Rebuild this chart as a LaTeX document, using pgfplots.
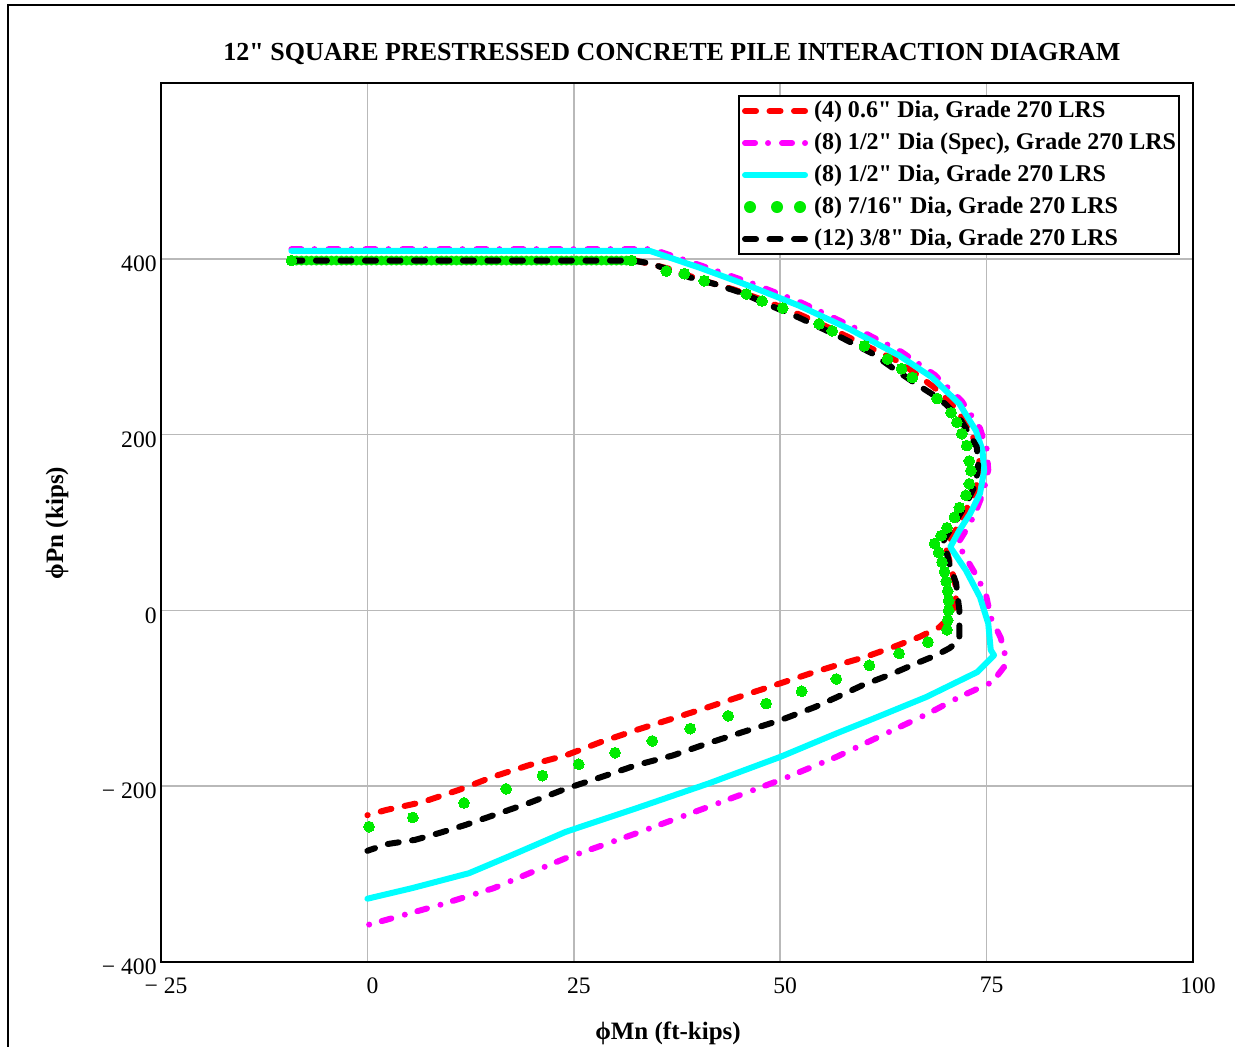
\documentclass[border=0pt]{standalone}
\usepackage{fontspec}
\setmainfont{Liberation Serif}[Ligatures=TeXOff]
\usepackage{pgfplots}
\pgfplotsset{compat=1.18}
\definecolor{mred}{RGB}{255,0,0}
\definecolor{mmag}{RGB}{255,0,255}
\definecolor{mcyan}{RGB}{0,255,255}
\definecolor{mgreen}{RGB}{0,235,0}
\definecolor{mgrid}{RGB}{185,185,185}

\begin{document}
\begin{tikzpicture}
\useasboundingbox (0bp,0bp) rectangle (617.5bp,523.5bp);
\draw[line width=1bp] (4.1bp,-5bp) -- (4.1bp,521bp) -- (630bp,521bp);
\node[font=\bfseries\fontsize{13bp}{15bp}\selectfont] at (336bp,496.5bp) {12" SQUARE PRESTRESSED CONCRETE PILE INTERACTION DIAGRAM};
\node[font=\bfseries\fontsize{12.5bp}{15bp}\selectfont] at (334bp,7bp) {ϕMn (ft-kips)};
\node[font=\bfseries\fontsize{12.5bp}{15bp}\selectfont,rotate=90] at (28.5bp,262bp) {ϕPn (kips)};
\begin{axis}[
  at={(80.5bp,42.5bp)}, anchor=south west,
  scale only axis, width=516bp, height=439.5bp,
  xmin=-25, xmax=100, ymin=-400, ymax=600,
  xtick={-25,0,25,50,75,100}, xticklabels={− 25,0,25,50,75,100},
  ytick={-400,-200,0,200,400}, yticklabels={− 400,− 200,0,200,400},
  major tick length=0pt,
  grid=major, grid style={color=mgrid, line width=0.8bp},
  axis line style={line width=1.2bp},
  tick label style={font=\fontsize{11.8bp}{14bp}\selectfont},
  xticklabel style={inner sep=0pt, yshift=-7.5bp, xshift=2.5bp},
  yticklabel style={inner sep=0pt, xshift=-2bp, yshift=-2.5bp},
  no markers,
  legend cell align=left,
  legend style={at={(0.9874,0.9863)}, anchor=north east, draw=black, line width=1bp,
    font=\bfseries\fontsize{12bp}{15bp}\selectfont, inner sep=1.5bp,
    nodes={inner sep=0pt, text height=9bp, text depth=3bp}, row sep=4bp, column sep=3bp},
  legend image code/.code={\draw[#1] (1.5bp,0bp) -- (31.5bp,0bp); \path[draw=none] (0bp,0bp) -- (33bp,0bp);},
]
\addplot[color=mred, line width=3bp, line cap=round, dash pattern=on 5.5bp off 6.75bp] table {
-9.2 398
32.5 398
36.4 389
40.4 376
44.4 365
48.5 351
52.5 336
56.5 319
60.6 300
64.6 282
68.6 254
70.7 236
72.8 209
74.0 183
74.2 159
73.6 136
72.3 110
70.8 83
70.0 74
70.6 53
71.2 30
71.3 8
70.5 -8
69.3 -19
66.9 -30
63.6 -42
60.3 -53
56.8 -62.5
54.2 -70
50.0 -83
45.6 -96.6
41.3 -110
37.0 -123
32.6 -136
28.2 -150
24.0 -165
19.6 -176
15.3 -189
11.0 -204.5
6.7 -218
2.3 -227
0 -233
};
\addlegendentry{(4) 0.6" Dia, Grade 270 LRS}
\addplot[color=mmag, line width=3bp, line cap=round, dash pattern=on 5bp off 6.5bp on 0bp off 7bp] table {
-9.2 411
34.5 411
40.5 392
46.6 372
52.6 350
58.7 323
64.7 294
68.7 268
72 238
74.2 207
75 184
75.2 160
74.6 134
73.5 108
72.3 88
71.5 76
73.6 42
74.9 19
75.5 -8
76.7 -31
77.3 -53
77.1 -64.5
75.7 -81.5
71.7 -98.5
68 -117
56.8 -166.7
50 -193
41.3 -223.5
32.6 -253.5
24 -282
20.5 -295.5
15.3 -316
8.8 -335
2.3 -352
0 -358
};
\addlegendentry{(8) 1/2" Dia (Spec), Grade 270 LRS}
\addplot[color=mcyan, line width=3bp, line join=round, line cap=round] table {
-9.2 409
34.2 409
40.2 390
46.3 369
52.3 346.6
58.4 320
64.4 290
68.4 265
71.7 235
73.7 204.5
74.5 182
74.7 159
74.2 133
73.0 110
71.7 91
70.6 72
72.5 45.5
74.2 15
75.2 -15
75.5 -45
75.9 -51
73.9 -70
67.7 -98.5
60.8 -125
56.8 -140
50 -166.7
41.3 -197
32.6 -225
24 -252
21.3 -263
17.1 -280
12.3 -299
5.4 -316
0 -328
};
\addlegendentry{(8) 1/2" Dia, Grade 270 LRS}
\addplot[color=mgreen, line width=5bp, line cap=round, dash pattern=on 0bp off 2.5bp, forget plot] table {
-9.2 398
32 398
};
\addplot[only marks, mark=*, mark size=2.7bp, color=mgreen, mark options={line width=0pt},
  legend image code/.code={\fill[mgreen,draw=none] (4bp,0bp) circle (3bp) (17.5bp,0bp) circle (3bp) (29bp,0bp) circle (3bp); \path[draw=none] (0bp,0bp) -- (33bp,0bp);}] table {
-9.2 398
32 398
36.2 386
38.4 383
40.8 375
45.9 360
47.8 352
50.3 344
54.7 326
56.3 318
60.2 301
63 286
64.7 275
66 265
69 241
70.7 225
71.4 214
72 201
72.6 187.5
72.9 170
73.1 159
72.9 144
72.5 131
71.7 117
71.1 106
70.2 94
69.5 85
68.7 76
69.2 66
69.6 55
69.9 44
70.1 33
70.3 22
70.4 11
70.4 0
70.3 -11
70.2 -22
67.9 -36
64.4 -49
60.8 -62.5
56.8 -78
52.6 -92
48.3 -106
43.7 -120
39.1 -134.5
34.5 -148.5
30 -162
25.6 -175
21.2 -188
16.8 -203
11.7 -219
5.5 -235.6
0.2 -246
};
\addlegendentry{(8) 7/16" Dia, Grade 270 LRS}
\addplot[color=black, line width=3bp, line cap=round, dash pattern=on 5.5bp off 6.75bp] table {
-9.2 398
32 398
34.2 395
36.2 388.6
39 379
42.2 371
45.4 361
49.5 344
52.3 333
57.5 310
61.2 292
63.6 276
66.4 258
68.4 246
70 235
71.7 219
72.9 201
73.8 186
74 167
73.7 144
72.5 121
71.3 102
69.8 79.5
70.5 53
71.3 31
71.7 0
71.7 -34
70.5 -43
68.9 -51
66.4 -60.6
63.6 -72
60 -85
56.8 -99
54.2 -110
50 -125
45.6 -138
41.3 -151
37 -165
32.6 -176
28.2 -190
24 -203
19.6 -219
15.3 -233
11.9 -244
8.8 -253
5.8 -261
2.3 -266
0 -273.5
};
\addlegendentry{(12) 3/8" Dia, Grade 270 LRS}
\end{axis}
\end{tikzpicture}
\end{document}
